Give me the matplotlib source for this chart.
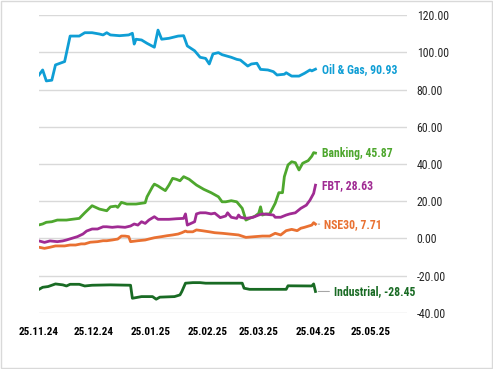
import pandas as pd
import matplotlib
matplotlib.use("Agg")
import matplotlib.dates as mdates
from matplotlib import font_manager
from matplotlib import pyplot as plt

# series values
oil_dates = ['2024-11-25', '2024-11-27', '2024-11-29', '2024-12-02', '2024-12-04', '2024-12-09',
             '2024-12-12', '2024-12-17', '2024-12-20', '2024-12-24', '2024-12-28', '2024-12-30',
             '2025-01-01', '2025-01-03', '2025-01-08', '2025-01-13', '2025-01-15', '2025-01-16',
             '2025-01-17', '2025-01-20', '2025-01-23', '2025-01-27', '2025-01-29', '2025-01-31',
             '2025-02-04', '2025-02-09', '2025-02-12', '2025-02-14', '2025-02-18', '2025-02-21',
             '2025-02-24', '2025-02-26', '2025-02-28', '2025-03-03', '2025-03-05', '2025-03-10',
             '2025-03-13', '2025-03-15', '2025-03-19', '2025-03-21', '2025-03-24', '2025-03-26',
             '2025-03-30', '2025-04-02', '2025-04-04', '2025-04-08', '2025-04-09', '2025-04-12',
             '2025-04-16', '2025-04-19', '2025-04-22', '2025-04-23', '2025-04-25']
oil_vals = [87.8, 90.5, 84.6, 85.0, 93.2, 95.0,
            108.7, 108.7, 110.5, 110.5, 109.8, 109.3,
            110.5, 109.3, 108.9, 109.3, 110.2, 104.4,
            107.0, 106.6, 104.8, 102.7, 111.9, 107.0,
            107.5, 108.7, 108.9, 103.4, 100.8, 97.3,
            96.7, 93.7, 99.1, 99.8, 98.7, 97.3,
            96.2, 95.8, 92.6, 93.7, 94.1, 90.8,
            90.5, 89.6, 87.8, 88.2, 89.0, 87.2,
            87.2, 88.7, 90.5, 90.0, 90.93]

bank_dates = ['2024-11-25', '2024-11-27', '2024-11-29', '2024-12-02', '2024-12-05', '2024-12-08',
              '2024-12-10', '2024-12-13', '2024-12-17', '2024-12-20', '2024-12-22', '2024-12-24',
              '2024-12-28', '2025-01-01', '2025-01-03', '2025-01-06', '2025-01-07', '2025-01-09',
              '2025-01-12', '2025-01-17', '2025-01-22', '2025-01-23', '2025-01-26', '2025-01-27',
              '2025-01-29', '2025-01-31', '2025-02-02', '2025-02-04', '2025-02-06', '2025-02-08',
              '2025-02-10', '2025-02-12', '2025-02-15', '2025-02-19', '2025-02-23', '2025-02-27',
              '2025-03-03', '2025-03-05', '2025-03-07', '2025-03-10', '2025-03-13', '2025-03-16',
              '2025-03-18', '2025-03-20', '2025-03-23', '2025-03-25', '2025-03-26', '2025-03-27',
              '2025-03-29', '2025-03-31', '2025-04-03', '2025-04-05', '2025-04-07', '2025-04-08',
              '2025-04-10', '2025-04-12', '2025-04-14', '2025-04-16', '2025-04-18', '2025-04-21',
              '2025-04-23', '2025-04-24', '2025-04-25']
bank_vals = [7.3, 7.8, 8.7, 9.0, 9.9, 9.9,
             9.9, 10.3, 10.8, 13.8, 15.7, 17.6,
             15.8, 14.9, 17.0, 17.4, 16.7, 19.4,
             18.5, 18.5, 19.2, 22.4, 27.8, 29.2,
             28.2, 26.9, 25.7, 28.7, 32.3, 31.8,
             31.0, 33.2, 31.8, 28.7, 26.4, 24.6,
             22.4, 19.7, 19.7, 20.3, 19.7, 16.2,
             9.9, 10.8, 12.0, 13.5, 17.0, 12.6,
             13.2, 13.2, 18.9, 24.6, 24.6, 33.2,
             39.5, 41.2, 40.7, 36.8, 40.4, 41.8,
             44.2, 46.1, 45.87]

fbt_dates = ['2024-11-25', '2024-11-28', '2024-12-01', '2024-12-05', '2024-12-08', '2024-12-10',
             '2024-12-13', '2024-12-16', '2024-12-19', '2024-12-21', '2024-12-24', '2024-12-27',
             '2024-12-30', '2025-01-01', '2025-01-04', '2025-01-07', '2025-01-11', '2025-01-14',
             '2025-01-16', '2025-01-18', '2025-01-20', '2025-01-22', '2025-01-24', '2025-01-27',
             '2025-01-29', '2025-02-04', '2025-02-08', '2025-02-12', '2025-02-13', '2025-02-14',
             '2025-02-16', '2025-02-18', '2025-02-19', '2025-02-21', '2025-02-24', '2025-02-27',
             '2025-03-01', '2025-03-04', '2025-03-07', '2025-03-08', '2025-03-10', '2025-03-13',
             '2025-03-14', '2025-03-15', '2025-03-18', '2025-03-22', '2025-03-25', '2025-03-27',
             '2025-04-02', '2025-04-03', '2025-04-06', '2025-04-09', '2025-04-11', '2025-04-14',
             '2025-04-17', '2025-04-20', '2025-04-22', '2025-04-24', '2025-04-25']
fbt_vals = [-1.3, -2.1, -1.3, -1.7, -1.3, -0.8,
            0.1, 1.0, 2.4, 4.0, 5.1, 5.1,
            6.3, 6.3, 6.0, 6.3, 6.0, 6.7,
            7.8, 7.2, 9.0, 8.1, 9.9, 11.7,
            10.3, 10.3, 10.6, 10.8, 13.2, 7.2,
            8.1, 9.0, 13.2, 13.8, 13.8, 13.2,
            13.6, 11.2, 12.1, 13.8, 11.4, 10.8,
            12.6, 11.4, 10.8, 11.4, 12.6, 13.2,
            12.6, 11.4, 11.4, 12.6, 13.2, 13.8,
            16.2, 17.9, 20.6, 24.2, 28.63]

nse_dates = ['2024-11-25', '2024-11-28', '2024-12-01', '2024-12-04', '2024-12-09', '2024-12-12',
             '2024-12-15', '2024-12-18', '2024-12-20', '2024-12-23', '2024-12-27', '2024-12-30',
             '2025-01-01', '2025-01-04', '2025-01-07', '2025-01-09', '2025-01-11', '2025-01-13',
             '2025-01-14', '2025-01-18', '2025-01-22', '2025-01-24', '2025-01-27', '2025-01-31',
             '2025-02-03', '2025-02-06', '2025-02-09', '2025-02-11', '2025-02-13', '2025-02-14',
             '2025-02-17', '2025-02-19', '2025-02-22', '2025-02-26', '2025-03-01', '2025-03-05',
             '2025-03-09', '2025-03-14', '2025-03-18', '2025-03-23', '2025-03-27', '2025-03-31',
             '2025-04-03', '2025-04-06', '2025-04-09', '2025-04-12', '2025-04-15', '2025-04-17',
             '2025-04-19', '2025-04-23', '2025-04-24', '2025-04-25']
nse_vals = [-4.7, -5.3, -4.7, -4.0, -4.0, -3.5,
            -3.5, -2.9, -2.9, -2.0, -1.7, -1.2,
            -1.2, -0.8, -0.3, 1.3, 1.3, 1.0,
            -1.7, -1.2, -0.8, -0.3, 0.4, 1.0,
            1.5, 1.9, 2.4, 3.1, 4.0, 3.6,
            3.6, 4.6, 4.2, 3.6, 3.1, 2.8,
            2.4, 1.9, 0.6, 1.0, 1.3, 1.3,
            2.8, 1.9, 4.2, 4.9, 4.2, 5.5,
            6.0, 7.2, 8.5, 7.71]

ind_dates = ['2024-11-25', '2024-11-27', '2024-11-30', '2024-12-04', '2024-12-08', '2024-12-10',
             '2024-12-12', '2024-12-17', '2024-12-20', '2024-12-24', '2025-01-03', '2025-01-14',
             '2025-01-15', '2025-01-20', '2025-01-26', '2025-01-28', '2025-01-30', '2025-02-07',
             '2025-02-10', '2025-02-11', '2025-02-13', '2025-02-17', '2025-02-21', '2025-02-24',
             '2025-03-16', '2025-03-17', '2025-03-20', '2025-04-09', '2025-04-10', '2025-04-23',
             '2025-04-24', '2025-04-25']
ind_vals = [-27.3, -26.2, -25.8, -24.4, -24.9, -25.5,
            -24.6, -24.6, -25.5, -25.1, -24.9, -25.1,
            -32.1, -31.2, -31.2, -32.6, -31.5, -31.2,
            -30.3, -28.5, -24.0, -23.7, -23.7, -24.0,
            -24.0, -26.7, -27.3, -27.3, -25.4, -25.5,
            -24.4, -28.45]

series = [
  ('Oil & Gas', oil_dates, oil_vals, '#0F9ED5'),
  ('Banking', bank_dates, bank_vals, '#4EA72E'),
  ('FBT', fbt_dates, fbt_vals, '#A02B93'),
  ('NSE30', nse_dates, nse_vals, '#E97132'),
  ('Industrial', ind_dates, ind_vals, '#196B24'),
]

# a narrow family that also has a bold cut
weights = {}
for f in font_manager.fontManager.ttflist:
  if f.style == 'normal':
    weights.setdefault(f.name, set()).add(f.weight)
fam = 'DejaVu Sans'
for cand in ['Roboto Condensed', 'Liberation Sans Narrow', 'Asap Condensed', 'Barlow Semi Condensed']:
  if cand in weights and 700 in weights[cand] and 400 in weights[cand]:
    fam = cand
    break
plt.rcParams['font.family'] = [fam, 'DejaVu Sans']

fig = plt.figure(figsize=(4.93, 3.69), dpi=100)
ax = fig.add_axes([0.0791, 0.1518, 0.8256 - 0.0791, 0.9593 - 0.1518])

for name, dates, vals, color in series:
  d = pd.to_datetime(dates)
  ax.plot(d, vals, color=color, lw=2.0, solid_joinstyle='round', zorder=3)
  # end label, Industrial and NSE30 sit a bit away with a leader line
  if name == 'Industrial':
    off = 13
  elif name == 'NSE30':
    off = 6
  else:
    off = 5
  lead = dict(arrowstyle='-', color='#A6A6A6', lw=0.8, shrinkA=1, shrinkB=2) if name in ('Industrial', 'NSE30') else None
  ax.annotate(f'{name}, {vals[-1]:.2f}', xy=(d[-1], vals[-1]), xytext=(off, 0),
              textcoords='offset points', ha='left', va='center',
              fontsize=8.5, fontweight='bold', color=color, arrowprops=lead,
              annotation_clip=False)

ax.set_ylim(-40, 120)
ax.set_yticks(range(-40, 121, 20))
ax.yaxis.set_major_formatter(matplotlib.ticker.FuncFormatter(lambda v, p: f'{v:.2f}'))
ax.yaxis.tick_right()
ax.set_xlim(pd.Timestamp('2024-11-25'), pd.Timestamp('2025-06-14'))
ax.set_xticks(pd.to_datetime(['2024-11-25', '2024-12-25', '2025-01-25', '2025-02-25',
                              '2025-03-25', '2025-04-25', '2025-05-25']))
ax.xaxis.set_major_formatter(mdates.DateFormatter('%d.%m.%y'))
ax.tick_params(axis='y', length=0, pad=7, labelsize=8.5, labelcolor='#262626')
ax.tick_params(axis='x', length=0, pad=10, labelsize=8, labelcolor='black')
for lbl in ax.get_xticklabels():
  lbl.set_fontweight('bold')
ax.grid(axis='y', color='#D9D9D9', lw=1.0, zorder=0)
for s in ax.spines.values():
  s.set_visible(False)

# chart border
fig.patches.append(plt.Rectangle((0.002, 0.003), 0.995, 0.994, transform=fig.transFigure,
                                 fill=False, edgecolor='#D9D9D9', lw=1.0))

plt.savefig('out.png', dpi=100)
